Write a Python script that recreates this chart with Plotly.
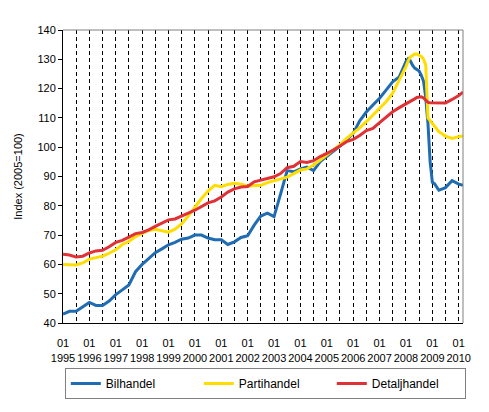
import plotly.graph_objects as go

# datas: trimestral até 2007, mensal em 2008 (queda), depois trimestral
datas = [f"{a}-{m:02d}" for a in range(1995, 2008) for m in (1, 4, 7, 10)]
datas += [f"2008-{m:02d}" for m in range(1, 13)] + ["2009-01", "2009-02", "2009-03"]
datas += ["2009-04", "2009-07", "2009-10", "2010-01", "2010-03"]

bilhandel = [
    43, 44, 44, 45.5,
    47, 46, 46, 47.5,
    49.7, 51.3, 53, 57.5,
    60, 62, 64, 65.3,
    66.7, 67.5, 68.6, 69,
    70, 70, 69, 68.4,
    68.4, 66.8, 67.7, 69.2,
    69.8, 73.4, 76.5, 77.5,
    76.3, 84, 92, 91.6,
    92.6, 93.2, 92, 95.1,
    96.8, 98.5, 100.4, 102.5,
    104.7, 109, 112, 114.4,
    116.7, 119.5, 122.3, 124,
    129.2, 130.2, 129.5, 128, 127, 126.5, 126, 124.5, 122.5, 117, 108, 95,
    88, 87.5, 86.5,
    85.3, 86.2, 88.6, 87.4, 87,
]

partihandel = [
    60, 60, 59.8, 60.5,
    61.8, 62.3, 62.8, 63.8,
    65, 66.8, 67.8, 69.5,
    70.6, 71.6, 72, 71.5,
    71, 72, 73.8, 76.5,
    79.5, 82.5, 85, 87,
    86.5, 87.3, 87.7, 87.4,
    86.8, 86.8, 87, 87.9,
    88.6, 89.2, 89.8, 91,
    92.2, 92.6, 93.9, 95.6,
    97.3, 99, 100.8, 103,
    104.7, 106.6, 108.7, 111,
    113.3, 115.5, 118.4, 122.9,
    127.5, 129.5, 130.8, 131.3, 131.8, 131.8, 131.5, 131, 130, 128, 110, 109,
    108, 107, 106,
    105.3, 103.8, 103, 103.6, 103.8,
]

detaljhandel = [
    63.5, 63.2, 62.5, 62.8,
    63.9, 64.6, 64.8, 66,
    67.5, 68.2, 69.3, 70.5,
    70.9, 71.8, 73, 74.1,
    75.2, 75.5, 76.6, 77.5,
    78.5, 79.8, 81, 81.7,
    83, 84.7, 85.8, 86.4,
    86.6, 88.2, 88.8, 89.4,
    89.9, 91, 93, 93.5,
    95.1, 94.8, 95.4, 96.8,
    97.9, 99, 100.4, 101.9,
    102.7, 104, 105.7, 106.4,
    108.4, 110.2, 112.1, 113.5,
    114.7, 115.2, 115.6, 116, 116.5, 117, 117.2, 117.2, 116.8, 116, 115.3, 115.2,
    115.2, 115.2, 115.2,
    115.2, 115.1, 116.3, 117.6, 118.8,
]

series = [
    ("Bilhandel", bilhandel, "#1f6cb3"),
    ("Partihandel", partihandel, "#ffdd00"),
    ("Detaljhandel", detaljhandel, "#e03236"),
]

fig = go.Figure()

for nome, valores, cor in series:
    fig.add_trace(go.Scatter(
        x=datas,
        y=valores,
        name=nome,
        mode='lines',
        line=dict(color=cor, width=3)
    ))

# a página tem 8px de margem no body: a figura é reduzida para caber
fig.update_layout(
    width=481,
    height=404,
    margin=dict(l=55, r=26, t=22, b=89),
    paper_bgcolor='white',
    plot_bgcolor='white',
    font=dict(family='Liberation Sans, Arial', size=11, color='black'),
    showlegend=True,
    legend=dict(
        orientation='h',
        xref='container',
        yref='container',
        x=0.535,
        xanchor='center',
        y=0.109,
        yanchor='top',
        bordercolor='#808080',
        borderwidth=1,
        font=dict(size=12),
        entrywidth=88,
        itemwidth=30
    ),
    xaxis=dict(
        type='date',
        range=['1995-01-01', '2010-03-01'],
        dtick='M12',
        tick0='1995-01-01',
        tickformat='%m<br>%Y',
        tickangle=0,
        ticklabelstandoff=10,
        automargin=False,
        showgrid=True,
        gridcolor='black',
        gridwidth=1,
        griddash='4px,3px',
        minor=dict(dtick='M6', showgrid=True, gridcolor='black',
                   gridwidth=1, griddash='4px,3px'),
        showline=True,
        linecolor='black',
        linewidth=1,
        ticks='',
        zeroline=False,
        tickfont=dict(size=11)
    ),
    yaxis=dict(
        title=dict(text='Index (2005=100)', font=dict(size=11), standoff=12),
        range=[40, 140],
        dtick=10,
        automargin=False,
        showgrid=False,
        showline=True,
        linecolor='black',
        linewidth=1,
        ticks='outside',
        ticklen=4,
        tickcolor='black',
        zeroline=False,
        tickfont=dict(size=11)
    )
)

# moldura cinza no topo e à direita
fig.add_shape(type='line', xref='paper', yref='paper', x0=0, x1=1, y0=1, y1=1,
              line=dict(color='#808080', width=1))
fig.add_shape(type='line', xref='paper', yref='paper', x0=1, x1=1, y0=0, y1=1,
              line=dict(color='#808080', width=1))

fig.write_html("out.html")
